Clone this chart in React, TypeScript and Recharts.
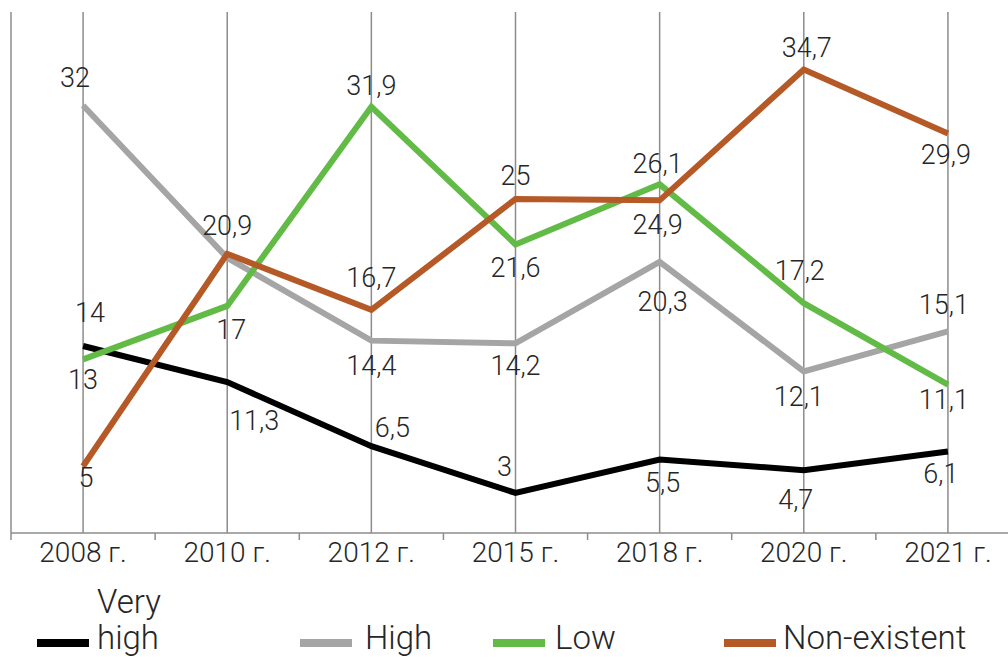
import { LineChart, Line, XAxis, YAxis, CartesianGrid, LabelList } from "recharts"

const categories = ["2008 г.", "2010 г.", "2012 г.", "2015 г.", "2018 г.", "2020 г.", "2021 г."]
const veryHigh = [14, 11.3, 6.5, 3, 5.5, 4.7, 6.1]
const high = [32, 20.6, 14.4, 14.2, 20.3, 12.1, 15.1]
const low = [13, 17, 31.9, 21.6, 26.1, 17.2, 11.1]
const nonExistent = [5, 20.9, 16.7, 25, 24.9, 34.7, 29.9]

const seriesNames = ["Very high", "High", "Low", "Non-existent"]
const seriesColors = ["#000000", "#A5A5A5", "#62BB46", "#B55A27"]

// label nudges (px) to mimic the hand-placed labels; null = no label
const labelDy = [
  [-33, 39, -18, -26, 23, 30, 22],
  [-28, null, 25, 23, 40, 26, -26],
  [21, 24, -21, 24, -20, -32, 15],
  [12, -28, -32, -23, 25, -21, 21],
]
const labelDx = [
  [7, 27, 21, -11, 3, -8, -7],
  [-8, 0, 0, 0, 3, -5, -4],
  [0, 4, 0, 0, -2, -4, -4],
  [3, 0, 0, 0, -2, 3, -2],
]

const keys = ["veryHigh", "high", "low", "nonExistent"]
const data = categories.map((year, i) => ({
  year,
  veryHigh: veryHigh[i],
  high: high[i],
  low: low[i],
  nonExistent: nonExistent[i],
}))

const CHART_W = 1040
const CHART_H = 578
const MARGIN = { top: 12, right: 20, left: 11, bottom: 0 }
const PLOT_W = CHART_W - MARGIN.left - MARGIN.right
const FONT = "Roboto, 'Open Sans', sans-serif"
const WEIGHT = 300
const TEXT = "#262626"
const GRID = "#8c8c8c"

const fmt = (v: number) => String(v).replace(".", ",")

const makeLabel = (s: number) => (props: any) => {
  const { index, value } = props
  const dy = labelDy[s][index]
  if (dy == null) return null
  const x = props.x ?? props.viewBox?.x
  const y = props.y ?? props.viewBox?.y
  return (
    <text
      x={x + labelDx[s][index]}
      y={y + dy}
      textAnchor="middle"
      dominantBaseline="central"
      fontFamily={FONT}
      fontWeight={WEIGHT}
      fontSize={27}
      fill={TEXT}
    >
      {fmt(value)}
    </text>
  )
}

const AxisTick = (props: any) => {
  const { x, y, payload, index } = props
  const band = PLOT_W / categories.length
  return (
    <g>
      <line x1={x - band / 2} x2={x - band / 2} y1={y} y2={y + 7} stroke={GRID} strokeWidth={1.5} />
      {index === categories.length - 1 && (
        <line x1={x + band / 2} x2={x + band / 2} y1={y} y2={y + 7} stroke={GRID} strokeWidth={1.5} />
      )}
      <text x={x} y={y + 29} textAnchor="middle" fontFamily={FONT} fontWeight={WEIGHT} fontSize={28} fill={TEXT}>
        {payload.value}
      </text>
    </g>
  )
}

const legendPos = [
  { swatch: 37, text: 97, width: 80 },
  { swatch: 300, text: 365, width: 200 },
  { swatch: 493, text: 555, width: 200 },
  { swatch: 724, text: 783, width: 260 },
]

export default function App() {
  return (
    <div
      style={{
        position: "absolute",
        left: 0,
        top: 0,
        width: 1008,
        height: 657,
        overflow: "hidden",
        background: "#fff",
      }}
    >
      <LineChart width={CHART_W} height={CHART_H} data={data} margin={MARGIN}>
        <CartesianGrid vertical={true} horizontal={false} stroke={GRID} strokeWidth={1.5} />
        <XAxis
          dataKey="year"
          scale="band"
          interval={0}
          height={45}
          tickSize={0}
          tickMargin={0}
          tickLine={false}
          axisLine={{ stroke: GRID, strokeWidth: 1.5 }}
          tick={<AxisTick />}
        />
        <YAxis hide domain={[0, 39]} />
        {keys.map((k, s) => (
          <Line
            key={k}
            dataKey={k}
            name={seriesNames[s]}
            stroke={seriesColors[s]}
            strokeWidth={6}
            dot={false}
            activeDot={false}
            isAnimationActive={false}
          >
            <LabelList dataKey={k} content={makeLabel(s)} />
          </Line>
        ))}
      </LineChart>
      {seriesNames.map((name, s) => (
        <div key={name}>
          <div
            style={{
              position: "absolute",
              left: legendPos[s].swatch,
              top: 639,
              width: 52,
              height: 8,
              background: seriesColors[s],
            }}
          />
          <div
            style={{
              position: "absolute",
              left: legendPos[s].text,
              bottom: 1,
              width: legendPos[s].width,
              fontFamily: FONT,
              fontWeight: WEIGHT,
              fontSize: 33,
              lineHeight: "36px",
              color: TEXT,
            }}
          >
            {name}
          </div>
        </div>
      ))}
    </div>
  )
}
